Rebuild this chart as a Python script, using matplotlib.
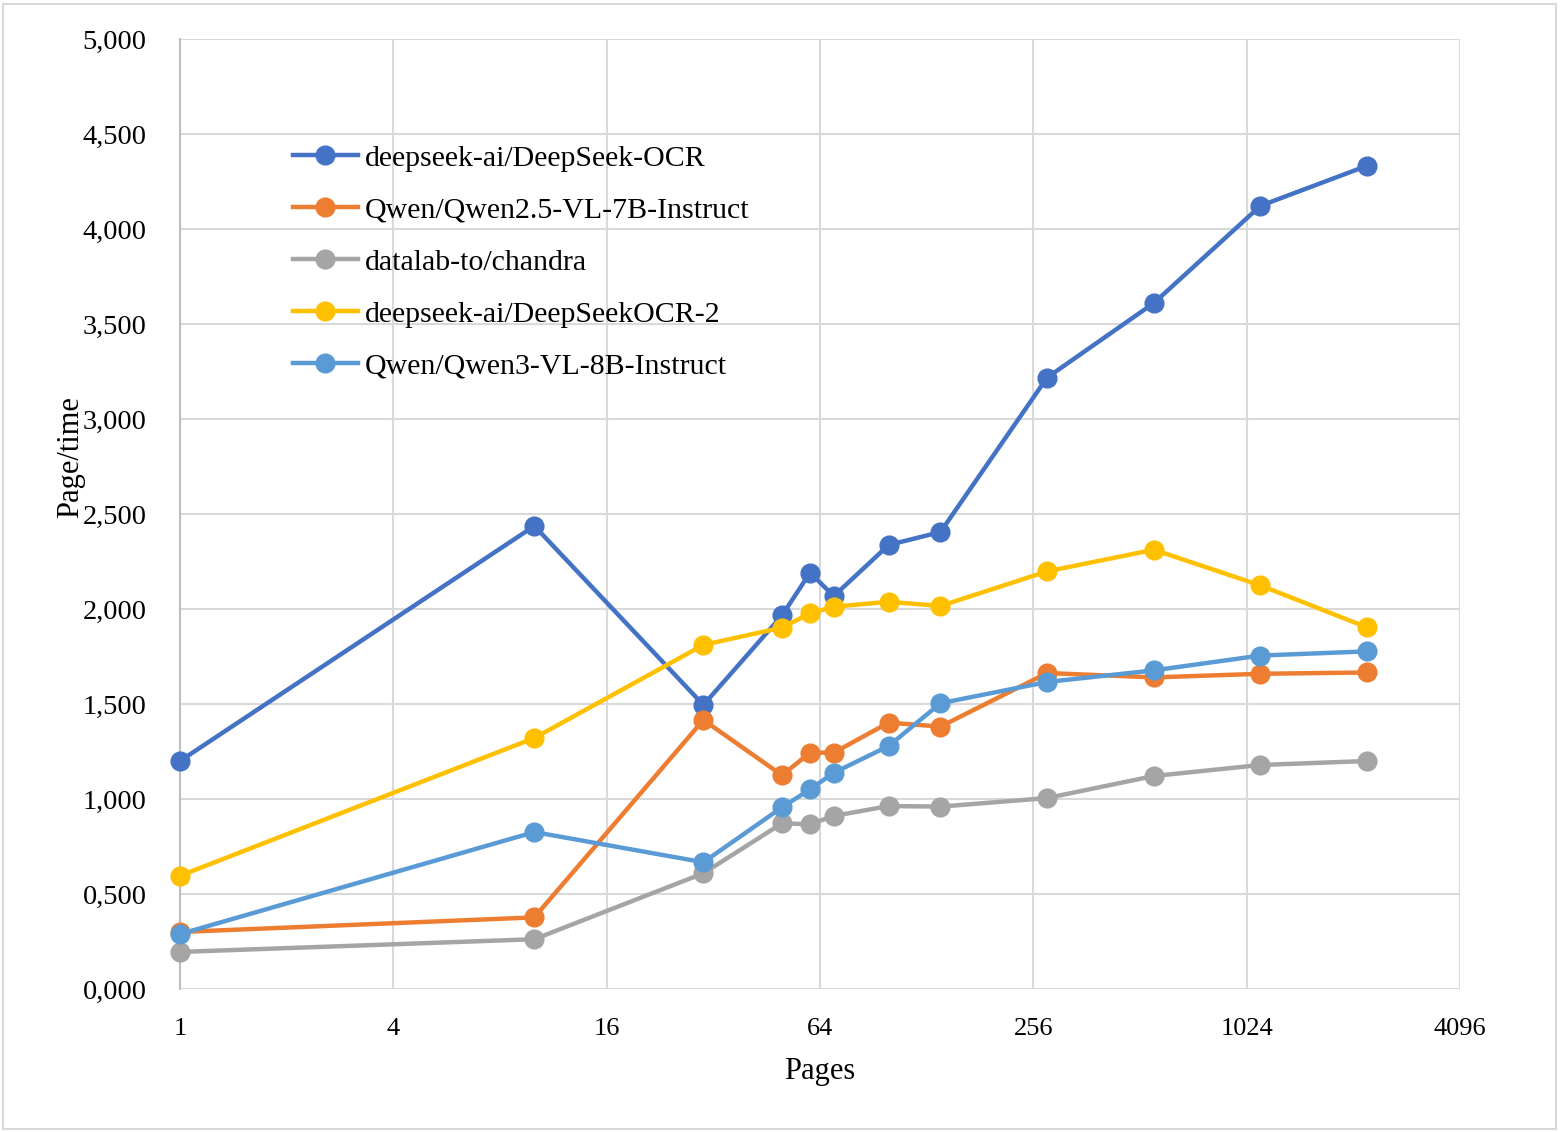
import matplotlib
matplotlib.use("Agg")
import matplotlib.pyplot as plt
from matplotlib.patches import Rectangle

plt.rcParams["font.family"] = ["Liberation Serif", "DejaVu Serif"]

"""
__Data__
"""
pages = [1, 10, 30, 50, 60, 70, 100, 140, 280, 560, 1120, 2240]

deepseek_ocr = [1.200, 2.437, 1.495, 1.966, 2.191, 2.068, 2.337, 2.405, 3.218, 3.610, 4.122, 4.333]
qwen25 = [0.300, 0.377, 1.416, 1.125, 1.244, 1.244, 1.402, 1.381, 1.663, 1.640, 1.659, 1.666]
chandra = [0.195, 0.262, 0.609, 0.872, 0.867, 0.911, 0.963, 0.960, 1.005, 1.121, 1.179, 1.200]
deepseek_ocr2 = [0.596, 1.321, 1.811, 1.902, 1.977, 2.012, 2.038, 2.016, 2.198, 2.312, 2.124, 1.903]
qwen3 = [0.289, 0.826, 0.667, 0.956, 1.051, 1.138, 1.279, 1.504, 1.616, 1.677, 1.755, 1.777]

series = [
    ("deepseek-ai/DeepSeek-OCR", deepseek_ocr, "#4472C4"),
    ("Qwen/Qwen2.5-VL-7B-Instruct", qwen25, "#ED7D31"),
    ("datalab-to/chandra", chandra, "#A5A5A5"),
    ("deepseek-ai/DeepSeekOCR-2", deepseek_ocr2, "#FFC000"),
    ("Qwen/Qwen3-VL-8B-Instruct", qwen3, "#5B9BD5"),
]

x_ticks = [1, 4, 16, 64, 256, 1024, 4096]
y_ticks = [0.0, 0.5, 1.0, 1.5, 2.0, 2.5, 3.0, 3.5, 4.0, 4.5, 5.0]

"""
__Plot__
"""
fig = plt.figure(figsize=(15.6, 11.32), dpi=100)
ax = fig.add_axes([180 / 1560, 143 / 1132, 1280 / 1560, 950 / 1132])

for label, values, colour in series:
    ax.plot(pages, values, color=colour, linewidth=3.2, marker="o", markersize=13.5,
            label=label, solid_joinstyle="round", clip_on=False, zorder=3)

ax.set_xscale("log", base=2)
ax.set_xlim(1, 4096)
ax.set_ylim(0, 5)
ax.set_xticks(x_ticks)
ax.set_xticklabels([str(t) for t in x_ticks], fontsize=19)
ax.minorticks_off()
ax.set_yticks(y_ticks)
ax.set_yticklabels([f"{t:.3f}".replace(".", ",") for t in y_ticks], fontsize=20.5)
ax.tick_params(length=0)
ax.tick_params(axis="x", pad=21)
ax.tick_params(axis="y", pad=24)

ax.grid(True, color="#D9D9D9", linewidth=1.5, zorder=0)
ax.set_axisbelow(True)
for side in ["top", "right", "bottom"]:
    ax.spines[side].set_visible(False)
ax.spines["left"].set_color("#BFBFBF")
ax.spines["left"].set_linewidth(1.5)

ax.set_xlabel("Pages", fontsize=22, labelpad=12)
ax.set_ylabel("Page/time", fontsize=22)
ax.yaxis.set_label_coords(-0.074, 0.56)

ax.legend(loc="upper left", bbox_to_anchor=(0.079, 0.901), frameon=False, fontsize=21.5,
          handlelength=2.17, handletextpad=0.23, labelspacing=0.84, borderaxespad=0)

fig.patches.append(Rectangle((3 / 1560, 3 / 1132), 1553 / 1560, 1125 / 1132,
                             transform=fig.transFigure, fill=False,
                             edgecolor="#D9D9D9", linewidth=1.5))

fig.savefig("out.png", dpi=100)
